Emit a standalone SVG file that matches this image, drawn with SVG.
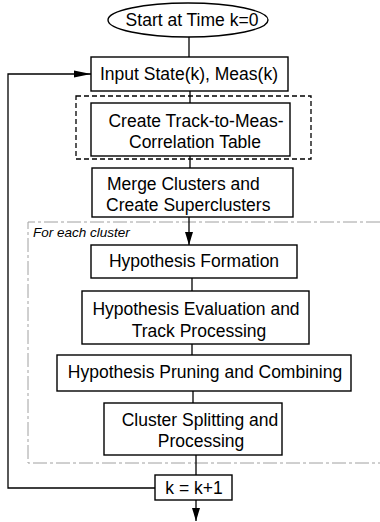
<svg xmlns="http://www.w3.org/2000/svg" width="380" height="522" viewBox="0 0 380 522">
<style>
.box{fill:#fff;stroke:#000;stroke-width:1.4}
.t{font-family:"Liberation Sans",Arial,sans-serif;font-size:17.5px;fill:#000;text-anchor:middle}
.l{font-family:"Liberation Sans",Arial,sans-serif;font-size:17.5px;fill:#000}
.c{fill:none;stroke:#000;stroke-width:1.3}
</style>
<defs>
<marker id="ah" markerUnits="userSpaceOnUse" markerWidth="14" markerHeight="10" refX="13" refY="4" orient="auto">
<path d="M0,0 L13,4 L0,8 Z" fill="#000"/>
</marker>
<marker id="ahl" markerUnits="userSpaceOnUse" markerWidth="18" markerHeight="10" refX="17" refY="4" orient="auto">
<path d="M0,0.5 L17,4 L0,7.5 Z" fill="#000"/>
</marker>
</defs>
<rect width="380" height="522" fill="#fff"/>
<g id="region">
<path d="M380,222 H28 V463 H380" fill="none" stroke="#a0a0a0" stroke-width="1" stroke-dasharray="14 3 3 3"/>
<text x="33" y="237" font-family="Liberation Sans,Arial,sans-serif" font-size="13.5" font-style="italic">For each cluster</text>
</g>
<g id="connectors">
<line class="c" x1="189" y1="37" x2="189" y2="57"/>
<line class="c" x1="190" y1="91" x2="190" y2="103"/>
<line class="c" x1="190" y1="156" x2="190" y2="168"/>
<line class="c" x1="189" y1="217" x2="189" y2="245" marker-end="url(#ah)"/>
<line class="c" x1="192" y1="278" x2="192" y2="291"/>
<line class="c" x1="192" y1="344" x2="192" y2="355"/>
<line class="c" x1="193" y1="391" x2="193" y2="403"/>
<line class="c" x1="196" y1="455" x2="196" y2="475"/>
<line class="c" x1="196" y1="500" x2="196" y2="521" marker-end="url(#ah)"/>
<path class="c" d="M155,488 H8 V74 H91" marker-end="url(#ahl)"/>
</g>
<g id="start">
<ellipse cx="188" cy="20" rx="80" ry="17" class="box"/>
<text class="t" x="192" y="26">Start at Time k=0</text>
</g>
<g id="input">
<rect class="box" x="91" y="57" width="197" height="34"/>
<text class="t" x="189" y="80">Input State(k), Meas(k)</text>
</g>
<g id="correlation">
<rect x="76" y="96" width="235" height="63" fill="none" stroke="#000" stroke-width="1.3" stroke-dasharray="5 3"/>
<rect class="box" x="91" y="103" width="199" height="53"/>
<text class="t" x="196" y="127">Create Track-to-Meas-</text>
<text class="t" x="195" y="148">Correlation Table</text>
</g>
<g id="merge">
<rect class="box" x="92" y="168" width="201" height="49"/>
<text class="l" x="107" y="190">Merge Clusters and</text>
<text class="l" x="106" y="211">Create Superclusters</text>
</g>
<g id="formation">
<rect class="box" x="91" y="245" width="206" height="33"/>
<text class="t" x="194" y="267">Hypothesis Formation</text>
</g>
<g id="evaluation">
<rect class="box" x="82" y="291" width="227" height="53"/>
<text class="t" x="196" y="315">Hypothesis Evaluation and</text>
<text class="t" x="199" y="337">Track Processing</text>
</g>
<g id="pruning">
<rect class="box" x="57" y="355" width="294" height="36"/>
<text class="t" x="205" y="378">Hypothesis Pruning and Combining</text>
</g>
<g id="splitting">
<rect class="box" x="104" y="403" width="178" height="52"/>
<text class="t" x="200" y="426">Cluster Splitting and</text>
<text class="t" x="201" y="447">Processing</text>
</g>
<g id="increment">
<rect class="box" x="155" y="475" width="77" height="25"/>
<text class="t" x="194" y="494">k = k+1</text>
</g>
</svg>
